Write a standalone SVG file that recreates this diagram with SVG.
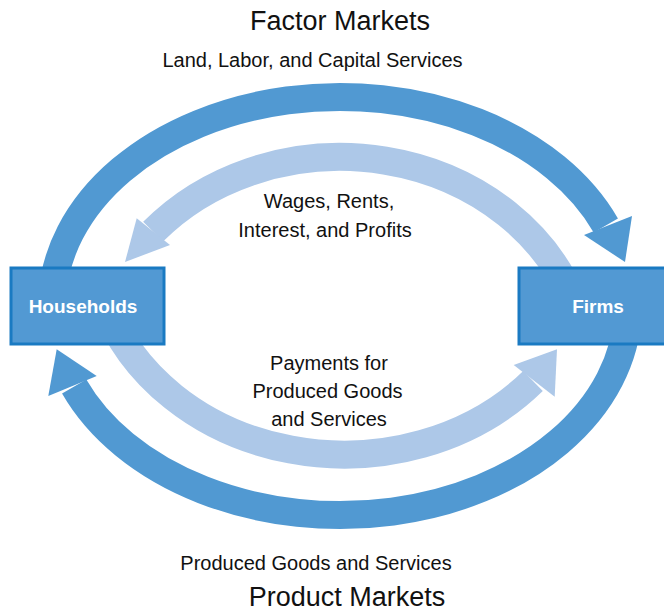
<svg xmlns="http://www.w3.org/2000/svg" width="664" height="614" viewBox="0 0 664 614">
<style>
.dark{fill:none;stroke:#5199D2;stroke-width:28}
.light{fill:none;stroke:#ADC8E8;stroke-width:28}
.dh{fill:#5199D2}
.lh{fill:#ADC8E8}
.box{fill:#5299D3;stroke:#1A7AC2;stroke-width:3}
.t{font-family:"Liberation Sans",Arial,sans-serif;font-size:20px;fill:#111;text-anchor:middle}
.title{font-size:27px}
.lbl{font-family:"Liberation Sans",Arial,sans-serif;font-size:19px;font-weight:bold;fill:#fff;text-anchor:middle}
</style>
<rect width="664" height="614" fill="#fff"/>
<g id="connectors">
<path class="dark" d="M52.1,300 A288,209 0 0 1 605.8,225.5"/>
<polygon class="dh" points="584,235 632,216 625,262"/>
<path class="dark" d="M627.9,312 A288,209 0 0 1 74.2,386.5"/>
<polygon class="dh" points="96.7,376 48.3,396 56.7,349.3"/>
<path class="light" d="M572.9,300 A248,218 0 0 0 153.1,231.7"/>
<polygon class="lh" points="136.7,218.3 170,245 125,262"/>
<path class="light" d="M103.1,300 A252,218 0 0 0 533,381"/>
<polygon class="lh" points="513.7,365 554.7,396.7 557,349.3"/>
</g>
<g id="households">
<rect class="box" x="11" y="268" width="153" height="76"/>
<text class="lbl" x="83" y="313">Households</text>
</g>
<g id="firms">
<rect class="box" x="519" y="268" width="160" height="76"/>
<text class="lbl" x="598" y="313">Firms</text>
</g>
<g id="labels">
<text class="t title" x="340" y="30">Factor Markets</text>
<text class="t" x="312.5" y="67">Land, Labor, and Capital Services</text>
<text class="t" x="329" y="208">Wages, Rents,</text>
<text class="t" x="325" y="237">Interest, and Profits</text>
<text class="t" x="329" y="370">Payments for</text>
<text class="t" x="327.5" y="398">Produced Goods</text>
<text class="t" x="329" y="426">and Services</text>
<text class="t" x="316" y="570">Produced Goods and Services</text>
<text class="t title" x="347" y="606">Product Markets</text>
</g>
</svg>
